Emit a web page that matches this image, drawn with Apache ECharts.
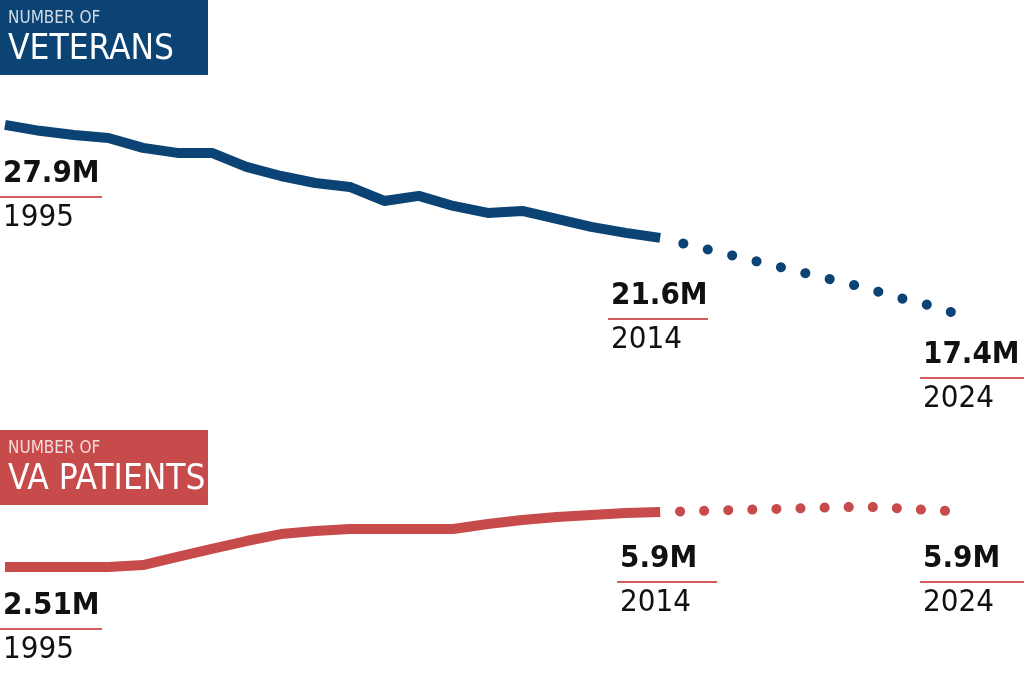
<!DOCTYPE html>
<html>
<head>
<meta charset="utf-8">
<script src="https://cdn.jsdelivr.net/npm/echarts@6/dist/echarts.min.js"></script>
<style>html,body{margin:0;padding:0;background:#fff}#main{width:1024px;height:675px}</style>
</head>
<body>
<div id="main"></div>
<script>
var years = [1995,1996,1997,1998,1999,2000,2001,2002,2003,2004,2005,2006,2007,2008,2009,2010,2011,2012,2013,2014];
var projYears = [2014,2015,2016,2017,2018,2019,2020,2021,2022,2023,2024];
// millions
var veterans = [27.9,27.57,27.34,27.17,26.62,26.34,26.34,25.56,25.05,24.66,24.44,23.66,23.94,23.38,22.99,23.1,22.66,22.21,21.88,21.6];
var veteransProj = [21.6,21.2,20.8,20.4,20.0,19.6,19.2,18.8,18.3,17.9,17.4];
var patients = [2.51,2.51,2.51,2.51,2.63,3.13,3.62,4.11,4.54,4.73,4.85,4.85,4.85,4.85,5.16,5.41,5.59,5.72,5.84,5.9];
var patientsProj = [5.9,5.95,6.0,6.05,6.1,6.15,6.2,6.2,6.1,6.0,5.9];

var BLUE = '#0b4474', RED = '#c84b4b', LINE = '#d35c5c';
var FONT = "'Liberation Sans Narrow','DejaVu Sans Condensed',sans-serif";

function pairs(xs, ys) { return xs.map(function (x, i) { return [x, ys[i]]; }); }
function xAx(grid, min, max) { return { type: 'value', gridIndex: grid, min: min, max: max, show: false }; }
function yAx(grid, min, max) { return { type: 'value', gridIndex: grid, min: min, max: max, show: false }; }

function label(x, y, value, year, lineW) {
    return [
        { type: 'text', left: x, top: y, style: { text: value, font: 'bold 31px ' + FONT, fill: '#111' } },
        { type: 'rect', left: x - 3, top: y + 38, shape: { width: lineW, height: 2 }, style: { fill: LINE } },
        { type: 'text', left: x, top: y + 44, style: { text: year, font: '31px ' + FONT, fill: '#111' } }
    ];
}
function header(y, small, big, color) {
    return [
        { type: 'rect', left: 0, top: y, shape: { width: 208, height: 75 }, style: { fill: color } },
        { type: 'text', left: 8, top: y + 10, style: { text: small, font: '17px ' + FONT, fill: 'rgba(255,255,255,0.8)' } },
        { type: 'text', left: 8, top: y + 32, style: { text: big, font: '35px ' + FONT, fill: '#fff' } }
    ];
}

var myChart = echarts.init(document.getElementById('main'));
var option = {
    animation: false,
    grid: [
        { left: 5, width: 1000, top: 100, height: 220 },
        { left: 5, width: 1000, top: 480, height: 120 }
    ],
    xAxis: [
        xAx(0, 1995, 2024),
        xAx(0, 2014 - 655 / 29.5, 2014 - 655 / 29.5 + 1000 / 29.5),
        xAx(1, 1995, 2024),
        xAx(1, 2014 - 655 / 30.7, 2014 - 655 / 30.7 + 1000 / 30.7)
    ],
    yAxis: [
        yAx(0, 17.02, 29.29),
        yAx(1, 0.476, 7.87)
    ],
    series: [
        { type: 'line', xAxisIndex: 0, yAxisIndex: 0, data: pairs(years, veterans), symbol: 'none',
          lineStyle: { color: BLUE, width: 10, join: 'round' } },
        { type: 'line', xAxisIndex: 1, yAxisIndex: 0, data: pairs(projYears, veteransProj), symbol: 'none',
          lineStyle: { color: BLUE, width: 10, type: [0.1, 25], dashOffset: -24, cap: 'round' } },
        { type: 'line', xAxisIndex: 2, yAxisIndex: 1, data: pairs(years, patients), symbol: 'none',
          lineStyle: { color: RED, width: 10, join: 'round' } },
        { type: 'line', xAxisIndex: 3, yAxisIndex: 1, data: pairs(projYears, patientsProj), symbol: 'none',
          lineStyle: { color: RED, width: 10, type: [0.1, 24], dashOffset: -20, cap: 'round' } }
    ],
    graphic: [].concat(
        header(0, 'NUMBER OF', 'VETERANS', BLUE),
        header(430, 'NUMBER OF', 'VA PATIENTS', RED),
        label(3, 158, '27.9M', '1995', 102),
        label(611, 280, '21.6M', '2014', 100),
        label(923, 339, '17.4M', '2024', 104),
        label(620, 543, '5.9M', '2014', 100),
        label(923, 543, '5.9M', '2024', 104),
        label(3, 590, '2.51M', '1995', 102)
    )
};
myChart.setOption(option);
</script>
</body>
</html>
